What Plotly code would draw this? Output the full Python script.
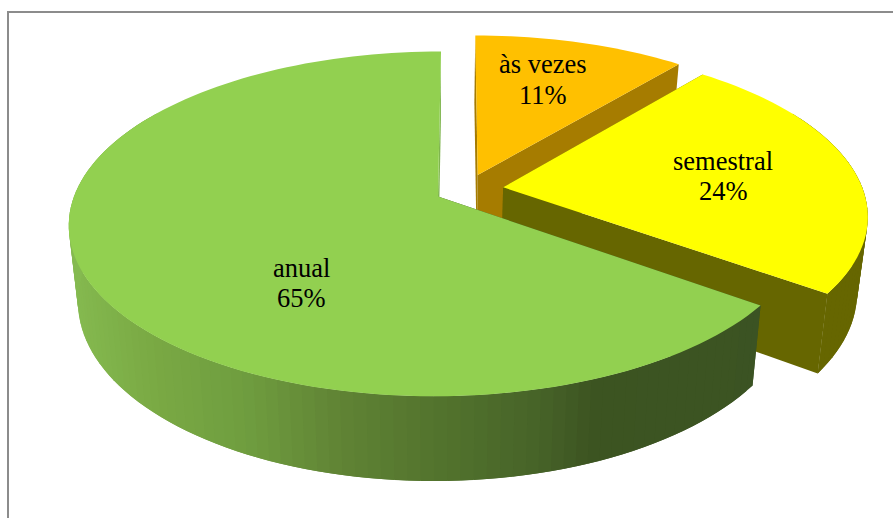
import numpy as np
import plotly.graph_objects as go

# Data
categories = ["às vezes", "semestral", "anual"]
shares = [11, 24, 65]

# Styling
top_colors = ["#ffc000", "#ffff00", "#92d050"]
wall_colors = ["#a67c00", "#666600", "#3b5324"]
closing_face_colors = ["#a67c00", "#666600", "#7fb54f"]
# exploded offset and radius of each slice, in disc units
offsets = [(0.11, 0.13), (0.18, 0.055), (0.0, 0.0)]
radii = [1.0, 0.995, 1.0]
label_xy = [(543, 64, 95), (723, 161, 191), (301, 268, 298)]
FONT = "Liberation Serif"
FONT_SIZE = 26.5

# Projection of the tilted disc onto the page
CX, CY = 438.0, 196.5
VANISH_X = 460.0
A, B, K = 364.0, 168.0, 0.159
RIM_SCALE = 0.975


def top_point(u, v):
    w = 1 + K * v
    return VANISH_X + (CX - VANISH_X + A * u) / w, CY - B * v / w


def lower_point(x, y):
    return CX + (x - CX) * RIM_SCALE, y + 80 + 0.05 * (y - 300)


def mix(c0, c1, t):
    t = float(np.clip(t, 0, 1))
    return "rgb(%d,%d,%d)" % tuple(round(a + (b - a) * t) for a, b in zip(c0, c1))


def polygon(fig, xs, ys, color):
    fig.add_trace(go.Scatter(
        x=list(xs), y=list(ys), mode="none", fill="toself", fillcolor=color,
        hoverinfo="skip", showlegend=False,
    ))


def green_wall_color(x):
    stops = [(69, (133, 186, 80)), (150, (122, 170, 68)), (250, (111, 157, 63)),
             (350, (95, 130, 52)), (450, (82, 115, 45)), (550, (70, 98, 40)),
             (600, (60, 84, 33)), (893, (59, 83, 36))]
    for (x0, c0), (x1, c1) in zip(stops, stops[1:]):
        if x <= x1:
            return mix(c0, c1, (x - x0) / (x1 - x0))
    return mix(stops[-1][1], stops[-1][1], 0)


fig = go.Figure()

start = 0.0
for i, share in enumerate(shares):
    end = start + share / 100 * 2 * np.pi
    du, dv = offsets[i]
    r = radii[i]
    steps = max(24, int(share * 2))
    theta = np.linspace(start, end, steps + 1)
    rim = [top_point(r * np.sin(t) + du, r * np.cos(t) + dv) for t in theta]
    apex = top_point(du, dv)
    low_rim = [lower_point(*p) for p in rim]
    low_apex = lower_point(*apex)

    # Cut faces of the slice
    faces = ((rim[0], low_rim[0], wall_colors[i]),
             (rim[-1], low_rim[-1], closing_face_colors[i]))
    for a, la, color in faces:
        polygon(fig, [apex[0], a[0], la[0], low_apex[0], apex[0]],
                [apex[1], a[1], la[1], low_apex[1], apex[1]], color)

    # Curved outer wall on the near side of the disc only;
    # strips overlap their neighbour so no seams show
    for j in range(steps):
        if np.cos(theta[j]) > 0.5:
            continue
        k = min(j + 2, steps)
        p, q, lq, lp = rim[j], rim[k], low_rim[k], low_rim[j]
        color = green_wall_color(p[0]) if i == 2 else wall_colors[i]
        polygon(fig, [p[0], q[0], lq[0], lp[0], p[0]],
                [p[1], q[1], lq[1], lp[1], p[1]], color)

    # Top face
    xs = [apex[0]] + [p[0] for p in rim] + [apex[0]]
    ys = [apex[1]] + [p[1] for p in rim] + [apex[1]]
    polygon(fig, xs, ys, top_colors[i])
    start = end

annotations = []
for name, share, (x, y1, y2) in zip(categories, shares, label_xy):
    for text, y in ((name, y1), (f"{share}%", y2)):
        annotations.append(dict(
            x=x, y=y, text=text, showarrow=False, xanchor="center", yanchor="middle",
            font=dict(family=FONT, size=FONT_SIZE, color="#000000"),
        ))

fig.update_layout(
    width=893, height=518, margin=dict(l=0, r=0, t=0, b=0),
    paper_bgcolor="#ffffff", plot_bgcolor="#ffffff", showlegend=False,
    xaxis=dict(range=[0, 893], visible=False, fixedrange=True),
    yaxis=dict(range=[518, 0], visible=False, fixedrange=True),
    annotations=annotations,
    shapes=[dict(type="path", path="M 8 518 L 8 12 L 893 12",
                 line=dict(color="#8c8c8c", width=2))],
)

fig.write_html("out.html", config=dict(displayModeBar=False))
